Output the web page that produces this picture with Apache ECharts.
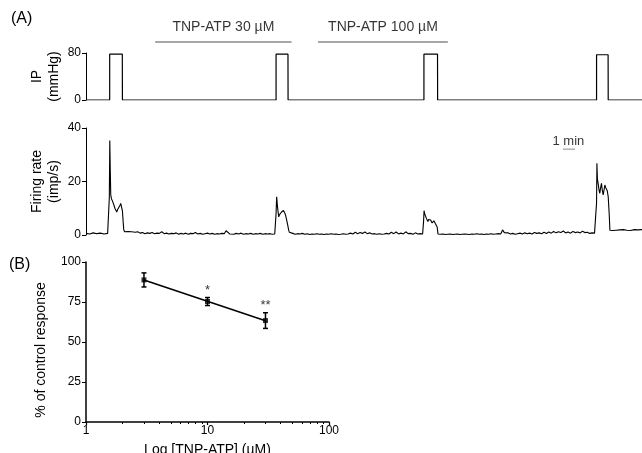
<!DOCTYPE html>
<html>
<head>
<meta charset="utf-8">
<script src="https://cdn.jsdelivr.net/npm/echarts@6/dist/echarts.min.js"></script>
<style>
  html, body { margin: 0; padding: 0; background: #fff; }
  #chart { width: 642px; height: 453px; }
</style>
</head>
<body>
<div id="chart"></div>
<script>
// time axis of the traces, in minutes
var traceMax = 46.25;

// intraluminal pressure trace [min, mmHg]
var ipTrace = [
    [0, 0], [1.97, 0], [1.97, 78], [3.02, 78], [3.02, 81], [3.03, 0],
    [15.81, 0], [15.81, 78], [16.8, 78], [16.8, 81], [16.81, 0],
    [28.11, 0], [28.11, 78], [29.24, 78], [29.24, 81], [29.25, 0],
    [42.47, 0], [42.47, 77], [43.43, 77], [43.43, 80], [43.44, 0],
    [46.25, 0]
];

// afferent firing rate trace [min, imp/s]
var firingTrace = [
    [0, 0.6], [0.3, 0.4], [0.6, 0.8], [0.9, 0.5], [1.2, 0.7], [1.5, 0.4], [1.8, 0.6], [1.92, 0.5],
    [1.94, 14], [1.98, 35.3], [2.02, 24], [2.06, 15], [2.12, 13.5], [2.22, 12.5], [2.3, 11.5], [2.36, 11],
    [2.42, 9.8], [2.5, 10.2], [2.56, 8.6], [2.62, 9.4], [2.69, 10], [2.75, 9.2], [2.82, 11], [2.89, 11.8],
    [2.96, 10.4], [3.03, 9], [3.09, 5], [3.14, 2], [3.21, 1.2],
    [3.35, 1.6], [3.5, 1.3], [3.65, 1.7], [3.8, 1.2], [3.95, 1.5], [4.1, 1.0], [4.3, 1.2], [4.5, 0.7],
    [4.7, 0.9], [4.9, 0.5], [5.1, 0.8], [5.3, 0.6], [5.5, 0.9], [5.7, 0.5], [5.9, 0.7], [6.1, 0.6],
    [6.3, 1.2], [6.5, 0.5], [6.7, 0.7], [6.9, 0.4], [7.1, 0.6], [7.3, 0.5], [7.5, 0.8], [7.7, 0.3],
    [7.9, 0.6], [8.1, 0.4], [8.3, 0.7], [8.5, 0.3], [8.7, 0.6], [8.9, 0.5], [9.1, 0.9], [9.3, 0.4],
    [9.5, 0.6], [9.7, 0.3], [9.9, 0.5], [10.1, 0.7], [10.3, 0.4], [10.5, 0.6], [10.7, 0.3], [10.9, 0.5],
    [11.1, 0.4], [11.3, 0.6], [11.5, 0.5], [11.65, 1.6], [11.8, 0.9], [11.95, 0.4], [12.1, 0.5], [12.3, 0.3],
    [12.5, 0.6], [12.7, 0.4], [12.9, 0.7], [13.1, 0.3], [13.3, 0.5], [13.5, 0.4], [13.7, 0.6], [13.9, 0.3],
    [14.1, 0.5], [14.3, 0.4], [14.5, 0.6], [14.7, 0.3], [14.9, 0.5], [15.1, 0.4], [15.3, 0.5], [15.5, 0.3],
    [15.7, 0.4], [15.79, 0.4],
    [15.81, 8], [15.86, 14.3], [15.92, 11], [15.97, 9], [16.03, 6.8], [16.1, 7.6], [16.17, 7.7], [16.25, 8.5],
    [16.31, 8.2], [16.36, 9], [16.42, 9.2], [16.48, 8.6], [16.54, 8.2], [16.6, 7.4], [16.68, 5.8], [16.78, 3.7],
    [16.86, 1.8], [16.92, 1.0], [17.0, 0.4],
    [17.2, 0.6], [17.4, 0.3], [17.6, 0.5], [17.8, 0.4], [18.0, 0.6], [18.2, 0.3], [18.4, 0.5], [18.6, 0.2],
    [18.8, 0.4], [19.0, 0.3], [19.2, 0.5], [19.4, 0.3], [19.6, 0.4], [19.8, 0.2], [20.0, 0.4], [20.2, 0.3],
    [20.4, 0.5], [20.6, 0.3], [20.8, 0.4], [21.0, 0.2], [21.2, 0.3], [21.4, 0.5], [21.6, 0.3], [21.8, 0.4],
    [22.0, 0.7], [22.2, 0.4], [22.4, 1.0], [22.6, 0.5], [22.8, 0.9], [23.0, 0.6], [23.2, 1.1], [23.4, 0.5],
    [23.6, 0.8], [23.8, 0.4], [24.0, 0.5], [24.2, 0.3], [24.4, 0.5], [24.6, 0.3], [24.8, 0.4], [25.0, 0.6],
    [25.2, 0.4], [25.4, 1.0], [25.6, 0.5], [25.8, 1.1], [26.0, 0.4], [26.2, 0.7], [26.4, 0.4], [26.6, 1.2],
    [26.8, 0.5], [27.0, 0.6], [27.2, 0.3], [27.4, 0.8], [27.6, 0.4], [27.8, 0.5], [28.0, 0.4], [28.06, 0.4],
    [28.08, 5], [28.12, 9.1], [28.17, 8], [28.21, 7.5], [28.29, 6.5], [28.36, 6], [28.44, 5], [28.5, 5.8],
    [28.54, 6], [28.6, 5.2], [28.67, 5.6], [28.73, 6.2], [28.79, 4.5], [28.86, 5], [28.94, 5.3], [29.0, 4.6],
    [29.04, 4.8], [29.1, 5.6], [29.14, 5.5], [29.21, 3], [29.28, 0.4],
    [29.5, 0.3], [29.7, 0.4], [29.9, 0.2], [30.1, 0.3], [30.3, 0.4], [30.5, 0.2], [30.7, 0.3], [30.9, 0.4],
    [31.1, 0.2], [31.3, 0.3], [31.5, 0.4], [31.7, 0.3], [31.9, 0.2], [32.1, 0.4], [32.3, 0.3], [32.5, 0.5],
    [32.7, 0.3], [32.9, 0.4], [33.1, 0.2], [33.3, 0.4], [33.5, 0.3], [33.7, 0.5], [33.9, 0.3], [34.1, 0.4],
    [34.3, 0.5], [34.5, 0.4], [34.65, 1.9], [34.8, 0.9], [34.95, 0.6], [35.1, 0.8], [35.3, 0.4], [35.5, 0.6],
    [35.7, 0.3], [35.9, 0.5], [36.1, 0.7], [36.3, 0.4], [36.5, 0.8], [36.7, 0.5], [36.9, 0.7], [37.1, 0.4],
    [37.3, 0.9], [37.5, 0.6], [37.7, 0.8], [37.9, 0.5], [38.1, 1.0], [38.3, 0.6], [38.5, 1.1], [38.7, 0.7],
    [38.9, 1.3], [39.1, 0.8], [39.3, 1.2], [39.5, 0.9], [39.7, 1.5], [39.9, 0.8], [40.1, 1.1], [40.3, 0.7],
    [40.5, 1.3], [40.7, 0.9], [40.9, 1.1], [41.1, 0.8], [41.3, 1.4], [41.5, 0.9], [41.7, 1.0], [41.9, 0.6],
    [42.1, 0.8], [42.3, 0.7], [42.45, 0.7],
    [42.47, 12], [42.5, 26.8], [42.54, 21], [42.6, 19.3], [42.67, 17], [42.74, 15.6], [42.8, 17.5], [42.88, 19.3],
    [42.94, 17], [43.02, 15], [43.1, 17], [43.16, 18.7], [43.22, 17.8], [43.3, 17.5], [43.36, 16.5], [43.44, 14.3],
    [43.52, 8], [43.58, 1.8], [43.65, 1.4],
    [43.8, 1.7], [43.95, 1.3], [44.1, 1.8], [44.25, 1.4], [44.4, 1.9], [44.55, 1.5], [44.7, 2.0], [44.85, 1.4],
    [45.0, 1.8], [45.15, 1.3], [45.3, 1.7], [45.45, 1.5], [45.6, 2.0], [45.75, 1.3], [45.9, 1.9], [46.05, 2.6],
    [46.25, 2.0]
];

// drug application periods (min)
var drugNames = ['TNP-ATP 30 \u00b5M', 'TNP-ATP 100 \u00b5M'];
var drugStart = [5.75, 19.3];
var drugEnd = [17.1, 30.1];

// 1 min scale bar
var scaleStart = 39.68;
var scaleLength = 1;
var scaleLevel = 32.1;

// panel B: concentration-response
var concentrations = [3, 10, 30];
var meanResponse = [88.8, 75.3, 63.4];
var errResponse = [4.4, 2.5, 4.9];
var sigMarks = ['', '*', '**'];
var fitConc = [3, 30];
var fitResponse = [88.8, 63.3];

var majorTicks = [1, 10, 100];
var minorTicks = [2, 3, 4, 5, 6, 7, 8, 9, 20, 30, 40, 50, 60, 70, 80, 90];

var fontFamily = '"Liberation Sans", Arial, Helvetica, sans-serif';
var black = '#000';
var grey = '#8a8a8a';

function traceAxis(grid) {
    return { gridIndex: grid, type: 'value', min: 0, max: traceMax, show: false };
}

function leftAxis(grid, max, interval, name, gap) {
    return {
        gridIndex: grid, type: 'value', min: 0, max: max, interval: interval,
        name: name, nameLocation: 'middle', nameGap: gap, nameMoveOverlap: false,
        nameTextStyle: { fontSize: 14, lineHeight: 17, color: black },
        axisLine: { show: true, lineStyle: { color: black, width: 1 } },
        axisTick: { show: true, length: 4, lineStyle: { color: black } },
        axisLabel: { margin: 5, fontSize: 12, color: black },
        splitLine: { show: false }
    };
}

var chart = echarts.init(document.getElementById('chart'));

var series = [];

series.push({
    type: 'line', xAxisIndex: 0, yAxisIndex: 0, data: ipTrace,
    symbol: 'none', lineStyle: { color: black, width: 1.2 }
});

series.push({
    type: 'line', xAxisIndex: 1, yAxisIndex: 1, data: firingTrace,
    symbol: 'none', lineStyle: { color: black, width: 1.1 }
});

// drug bars + labels
drugNames.forEach(function (name, i) {
    series.push({
        type: 'line', xAxisIndex: 4, yAxisIndex: 3, clip: false,
        data: [[drugStart[i], 0], [drugEnd[i], 0]],
        symbol: 'none', lineStyle: { color: grey, width: 1.6 }
    });
    series.push({
        type: 'scatter', xAxisIndex: 4, yAxisIndex: 3, clip: false,
        data: [[(drugStart[i] + drugEnd[i]) / 2, 0]],
        symbolSize: 1, itemStyle: { color: 'rgba(0,0,0,0)' },
        label: {
            show: true, position: 'top', distance: 7,
            formatter: name, fontSize: 14, color: black, fontFamily: fontFamily
        }
    });
});

// scale bar
series.push({
    type: 'line', xAxisIndex: 1, yAxisIndex: 1,
    data: [[scaleStart, scaleLevel], [scaleStart + scaleLength, scaleLevel]],
    symbol: 'none', lineStyle: { color: grey, width: 1 }
});
series.push({
    type: 'scatter', xAxisIndex: 1, yAxisIndex: 1,
    data: [[scaleStart + scaleLength / 2 - 0.05, scaleLevel]],
    symbolSize: 1, itemStyle: { color: 'rgba(0,0,0,0)' },
    label: {
        show: true, position: 'top', distance: 1,
        formatter: '1 min', fontSize: 13, color: black, fontFamily: fontFamily
    }
});

// panel B
series.push({
    type: 'line', xAxisIndex: 2, yAxisIndex: 2,
    data: fitConc.map(function (c, i) { return [c, fitResponse[i]]; }),
    symbol: 'none', lineStyle: { color: black, width: 1.5 }
});

series.push({
    type: 'custom', xAxisIndex: 2, yAxisIndex: 2,
    data: concentrations.map(function (c, i) {
        return [c, meanResponse[i] - errResponse[i], meanResponse[i] + errResponse[i]];
    }),
    renderItem: function (params, api) {
        var top = api.coord([api.value(0), api.value(2)]);
        var bottom = api.coord([api.value(0), api.value(1)]);
        var half = 2.5;
        var style = { stroke: black, lineWidth: 1.5 };
        return {
            type: 'group',
            children: [
                { type: 'line', shape: { x1: top[0], y1: top[1], x2: bottom[0], y2: bottom[1] }, style: style },
                { type: 'line', shape: { x1: top[0] - half, y1: top[1], x2: top[0] + half, y2: top[1] }, style: style },
                { type: 'line', shape: { x1: bottom[0] - half, y1: bottom[1], x2: bottom[0] + half, y2: bottom[1] }, style: style }
            ]
        };
    }
});

series.push({
    type: 'scatter', xAxisIndex: 2, yAxisIndex: 2,
    data: concentrations.map(function (c, i) { return [c, meanResponse[i]]; }),
    symbol: 'rect', symbolSize: 5, itemStyle: { color: black }
});

series.push({
    type: 'scatter', xAxisIndex: 2, yAxisIndex: 2,
    data: concentrations.map(function (c, i) { return [c, meanResponse[i] + errResponse[i], sigMarks[i]]; }),
    symbolSize: 1, itemStyle: { color: 'rgba(0,0,0,0)' },
    label: {
        show: true, position: 'top', distance: 0,
        formatter: function (p) { return p.value[2]; },
        fontSize: 13, color: black, fontFamily: fontFamily
    }
});

chart.setOption({
    animation: false,
    backgroundColor: '#fff',
    textStyle: { fontFamily: fontFamily, color: black },
    title: [
        { text: '(A)', left: 11, top: 11, padding: 0, textStyle: { fontSize: 16, fontWeight: 'normal', color: black } },
        { text: '(B)', left: 9, top: 257, padding: 0, textStyle: { fontSize: 16, fontWeight: 'normal', color: black } }
    ],
    grid: [
        { left: 86, right: 0, top: 53, height: 47, outerBoundsMode: 'none' },
        { left: 86, right: 0, top: 128, height: 107, outerBoundsMode: 'none' },
        { left: 86, width: 243, top: 262, height: 160, outerBoundsMode: 'none' },
        { left: 86, right: 0, top: 30, height: 12, outerBoundsMode: 'none' }
    ],
    xAxis: [
        traceAxis(0),
        traceAxis(1),
        {
            gridIndex: 2, type: 'log', logBase: 10, min: 1, max: 100, position: 'bottom',
            name: 'Log [TNP-ATP] (\u00b5M)', nameLocation: 'middle', nameGap: 21, nameMoveOverlap: false,
            nameTextStyle: { fontSize: 14, color: black },
            axisLine: { show: true, lineStyle: { color: black, width: 1.5 } },
            axisTick: { show: true, length: 3, customValues: majorTicks, lineStyle: { color: black, width: 1.2 } },
            axisLabel: { customValues: majorTicks, margin: 3, fontSize: 12, color: black },
            splitLine: { show: false }
        },
        {
            gridIndex: 2, type: 'log', logBase: 10, min: 1, max: 100, position: 'bottom', offset: 0,
            axisLine: { show: false },
            axisTick: { show: true, length: 2, customValues: minorTicks, lineStyle: { color: black } },
            axisLabel: { show: false },
            splitLine: { show: false }
        },
        traceAxis(3)
    ],
    yAxis: [
        leftAxis(0, 80, 80, 'IP\n(mmHg)', 23),
        leftAxis(1, 40, 20, 'Firing rate\n(imp/s)', 23),
        (function () {
            var ax = leftAxis(2, 100, 25, '% of control response', 36);
            ax.axisLine.lineStyle.width = 1.5;
            ax.nameTextStyle.padding = [0, 16, 0, 0];
            return ax;
        })(),
        { gridIndex: 3, type: 'value', min: 0, max: 1, show: false }
    ],
    series: series
});
</script>
</body>
</html>
